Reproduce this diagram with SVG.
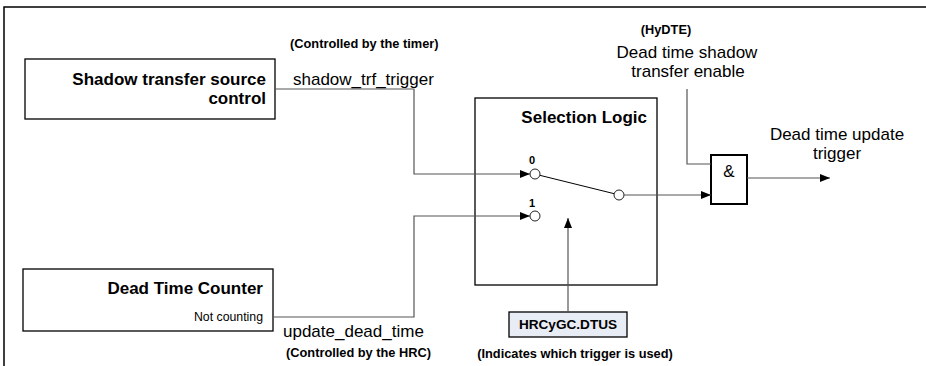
<svg xmlns="http://www.w3.org/2000/svg" width="926" height="366" viewBox="0 0 926 366">
<defs>
<marker id="arr" viewBox="0 0 10 10" refX="10" refY="5" markerWidth="10" markerHeight="10" markerUnits="userSpaceOnUse" orient="auto">
<path d="M0,1 L10,5 L0,9 z" fill="#000"/>
</marker>
<style>
.t{font-family:"Liberation Sans",Arial,sans-serif;fill:#000}
.b{font-weight:bold}
.L{font-size:17px}
.s{font-size:12.8px;font-weight:bold}
.box{fill:#fff;stroke:#000;stroke-width:1.3}
.c{fill:none;stroke:#555;stroke-width:1.2}
.sw{fill:#fff;stroke:#222;stroke-width:1}
</style>
</defs>
<rect width="926" height="366" fill="#fff"/>
<path d="M4,366 V7 H926" fill="none" stroke="#000" stroke-width="1.5"/>

<g id="shadow-source">
<rect class="box" x="25" y="59" width="250" height="60"/>
<text class="t b L" x="266" y="85" text-anchor="end">Shadow transfer source</text>
<text class="t b L" x="266" y="104" text-anchor="end">control</text>
</g>

<g id="dead-time-counter">
<rect class="box" x="23" y="269" width="250" height="62"/>
<text class="t b L" x="263" y="294" text-anchor="end">Dead Time Counter</text>
<text class="t" x="263" y="321" font-size="12.3" text-anchor="end">Not counting</text>
</g>

<g id="selection-logic">
<rect class="box" x="475" y="98" width="182" height="187"/>
<text class="t b L" x="647" y="123" text-anchor="end">Selection Logic</text>
<text class="t b" x="532" y="164" font-size="11" text-anchor="middle">0</text>
<text class="t b" x="532" y="207" font-size="11" text-anchor="middle">1</text>
<line x1="539.8" y1="175.3" x2="614.2" y2="193.7" stroke="#000" stroke-width="1"/>
<circle class="sw" cx="535" cy="174" r="5"/>
<circle class="sw" cx="535" cy="216" r="5"/>
<circle class="sw" cx="619" cy="195" r="5"/>
</g>

<g id="and-gate">
<rect x="711" y="155" width="36" height="49" fill="#fff" stroke="#000" stroke-width="2"/>
<text class="t L" x="729" y="177" text-anchor="middle">&amp;</text>
</g>

<g id="dtus">
<rect x="509" y="312" width="118" height="25" fill="#e8ecf5" stroke="#000" stroke-width="1.3"/>
<text class="t b" x="568" y="329" font-size="13.6" text-anchor="middle">HRCyGC.DTUS</text>
</g>

<g id="connectors">
<path class="c" d="M275,89 H414 V174 H530" marker-end="url(#arr)"/>
<path class="c" d="M273,317 H414 V216 H530" marker-end="url(#arr)"/>
<path class="c" d="M624,195 H711" marker-end="url(#arr)"/>
<path class="c" d="M687,89 V164 H711"/>
<path class="c" d="M747,178 H830" marker-end="url(#arr)"/>
<path class="c" d="M568,312 V218" marker-end="url(#arr)"/>
</g>

<g id="labels">
<text class="t s" x="290" y="48">(Controlled by the timer)</text>
<text class="t L" x="293" y="85">shadow_trf_trigger</text>
<text class="t L" x="283" y="337">update_dead_time</text>
<text class="t s" x="286" y="357">(Controlled by the HRC)</text>
<text class="t s" x="666" y="34" text-anchor="middle">(HyDTE)</text>
<text class="t L" x="687" y="58" text-anchor="middle">Dead time shadow</text>
<text class="t L" x="688" y="77" text-anchor="middle">transfer enable</text>
<text class="t L" x="837" y="140" text-anchor="middle">Dead time update</text>
<text class="t L" x="837" y="159" text-anchor="middle">trigger</text>
<text class="t s" x="575" y="358" font-size="13" text-anchor="middle">(Indicates which trigger is used)</text>
</g>
</svg>
